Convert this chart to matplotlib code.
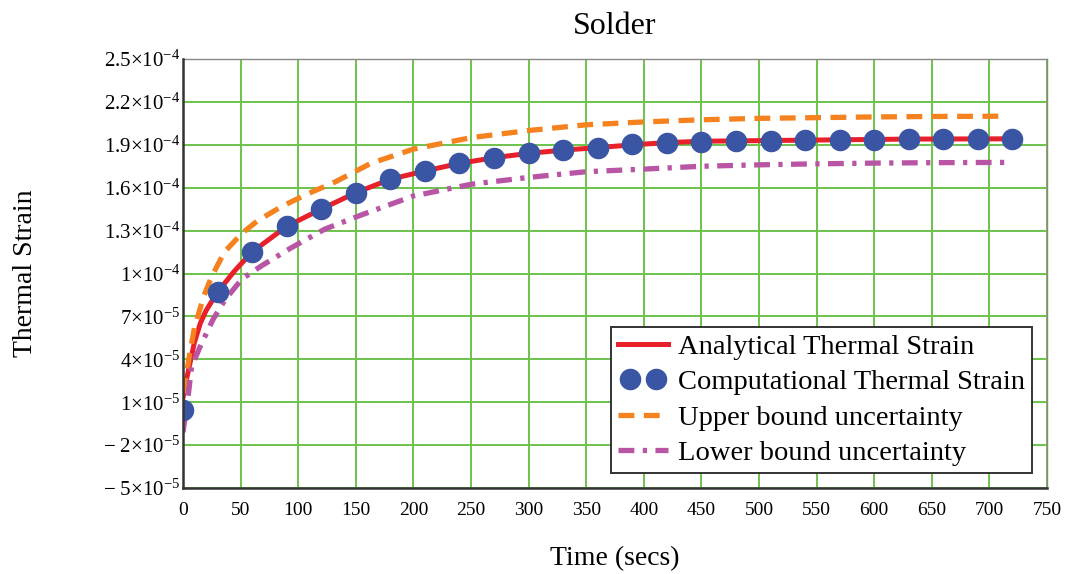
import matplotlib
matplotlib.use("Agg")
import matplotlib.pyplot as plt
from matplotlib.legend_handler import HandlerLine2D

plt.rcParams['font.family'] = ['Liberation Serif', 'DejaVu Serif']
plt.rcParams['mathtext.fontset'] = 'custom'
plt.rcParams['mathtext.rm'] = 'Liberation Serif'
plt.rcParams['mathtext.it'] = 'Liberation Serif:italic'
plt.rcParams['mathtext.bf'] = 'Liberation Serif:bold'

#===============================================================================
# DATA (strain values in units of 1e-4)
#===============================================================================

t_analytical = [0, 2, 5, 10, 15, 20, 30, 45, 60, 90, 120, 150, 180, 210, 240,
                270, 300, 330, 360, 390, 420, 450, 510, 570, 630, 720]
analytical = [0.13, 0.22, 0.33, 0.52, 0.65, 0.74, 0.87, 1.02, 1.15, 1.33, 1.45,
              1.565, 1.659, 1.717, 1.77, 1.81, 1.84, 1.863, 1.88, 1.90, 1.915,
              1.925, 1.93, 1.935, 1.94, 1.942]

t_computational = [0, 30, 60, 90, 120, 150, 180, 210, 240, 270, 300, 330, 360,
                   390, 420, 450, 480, 510, 540, 570, 600, 630, 660, 690, 720]
computational = [0.046, 0.87, 1.15, 1.33, 1.45, 1.565, 1.659, 1.717, 1.77, 1.81,
                 1.84, 1.863, 1.88, 1.905, 1.915, 1.92, 1.925, 1.93, 1.932,
                 1.935, 1.937, 1.938, 1.94, 1.94, 1.942]

t_upper = [0, 2, 6, 10, 18, 25, 36, 51, 65, 86, 109, 132, 163, 200, 250, 300,
           350, 400, 450, 500, 550, 600, 650, 715]
upper = [0.16, 0.24, 0.447, 0.62, 0.84, 0.98, 1.15, 1.28, 1.37, 1.47, 1.56, 1.64,
         1.77, 1.87, 1.95, 2.00, 2.04, 2.06, 2.075, 2.085, 2.09, 2.095, 2.098, 2.10]

t_lower = [0, 4.6, 7.5, 15, 26, 36.5, 51, 68, 94, 123, 155, 200, 250, 300, 350,
           400, 450, 500, 550, 600, 650, 715]
lower = [-0.11, 0.146, 0.35, 0.49, 0.677, 0.816, 0.96, 1.053, 1.18, 1.31, 1.41,
         1.542, 1.624, 1.672, 1.712, 1.73, 1.75, 1.76, 1.767, 1.772, 1.775, 1.777]

x_ticks = list(range(0, 751, 50))
y_ticks = [-0.5, -0.2, 0.1, 0.4, 0.7, 1.0, 1.3, 1.6, 1.9, 2.2, 2.5]
y_tick_labels = [r"$\mathregular{-\ 5{\times}10^{-5}}$",
                 r"$\mathregular{-\ 2{\times}10^{-5}}$",
                 r"$\mathregular{1{\times}10^{-5}}$",
                 r"$\mathregular{4{\times}10^{-5}}$",
                 r"$\mathregular{7{\times}10^{-5}}$",
                 r"$\mathregular{1{\times}10^{-4}}$",
                 r"$\mathregular{1.3{\times}10^{-4}}$",
                 r"$\mathregular{1.6{\times}10^{-4}}$",
                 r"$\mathregular{1.9{\times}10^{-4}}$",
                 r"$\mathregular{2.2{\times}10^{-4}}$",
                 r"$\mathregular{2.5{\times}10^{-4}}$"]

#===============================================================================
# PLOT
#===============================================================================

fig = plt.figure(figsize=(10.73, 5.74), dpi=100)
ax = fig.add_axes([0.1705, 0.1498, 0.8053, 0.7474])

ax.plot(t_analytical, analytical, color="#e8202a", lw=3.6,
        label="Analytical Thermal Strain", zorder=3)
dots, = ax.plot(t_computational, computational, "o", color="#3a55a4", ms=14.5,
                label="Computational Thermal Strain", zorder=4)
ax.plot(t_upper, upper, color="#f5821f", lw=3.8, ls=(0, (3, 1.8)),
        label="Upper bound uncertainty", zorder=3)
ax.plot(t_lower, lower, color="#b855a5", lw=3.8, ls=(0, (3, 1.6, 0.8, 1.6)),
        label="Lower bound uncertainty", zorder=3)

ax.set_xlim(0, 750)
ax.set_ylim(-0.5, 2.5)
ax.set_xticks(x_ticks)
ax.set_yticks(y_ticks)
ax.set_yticklabels(y_tick_labels)
ax.tick_params(axis="x", length=0, labelsize=14, pad=10)
ax.tick_params(axis="y", length=0, labelsize=15, pad=2)
ax.grid(True, color="#6cc24a", lw=1.4)
ax.set_axisbelow(True)

for side in ["left", "bottom"]:
    ax.spines[side].set_color("#333333")
    ax.spines[side].set_linewidth(1.8)
    ax.spines[side].set_zorder(5)
for side in ["top", "right"]:
    ax.spines[side].set_color("#888888")
    ax.spines[side].set_linewidth(1.0)

ax.set_title("Solder", fontsize=23, y=1.058, pad=0)
ax.set_xlabel("Time (secs)", fontsize=20)
ax.set_ylabel("Thermal Strain", fontsize=20)
ax.xaxis.set_label_coords(0.5, -0.135)
ax.yaxis.set_label_coords(-0.168, 0.5)

leg = ax.legend(loc="lower right", bbox_to_anchor=(0.9826, 0.035),
                fontsize=20.5, frameon=True, fancybox=False, handlelength=1.73,
                handletextpad=0.36, borderpad=0.25, labelspacing=0.33,
                borderaxespad=0,
                handler_map={dots: HandlerLine2D(numpoints=2, marker_pad=0.41)})
leg.get_frame().set_edgecolor("#333333")
leg.get_frame().set_linewidth(1.4)
leg.get_frame().set_alpha(1)
leg.set_zorder(6)

plt.savefig("out.png", dpi=100)
plt.close()
